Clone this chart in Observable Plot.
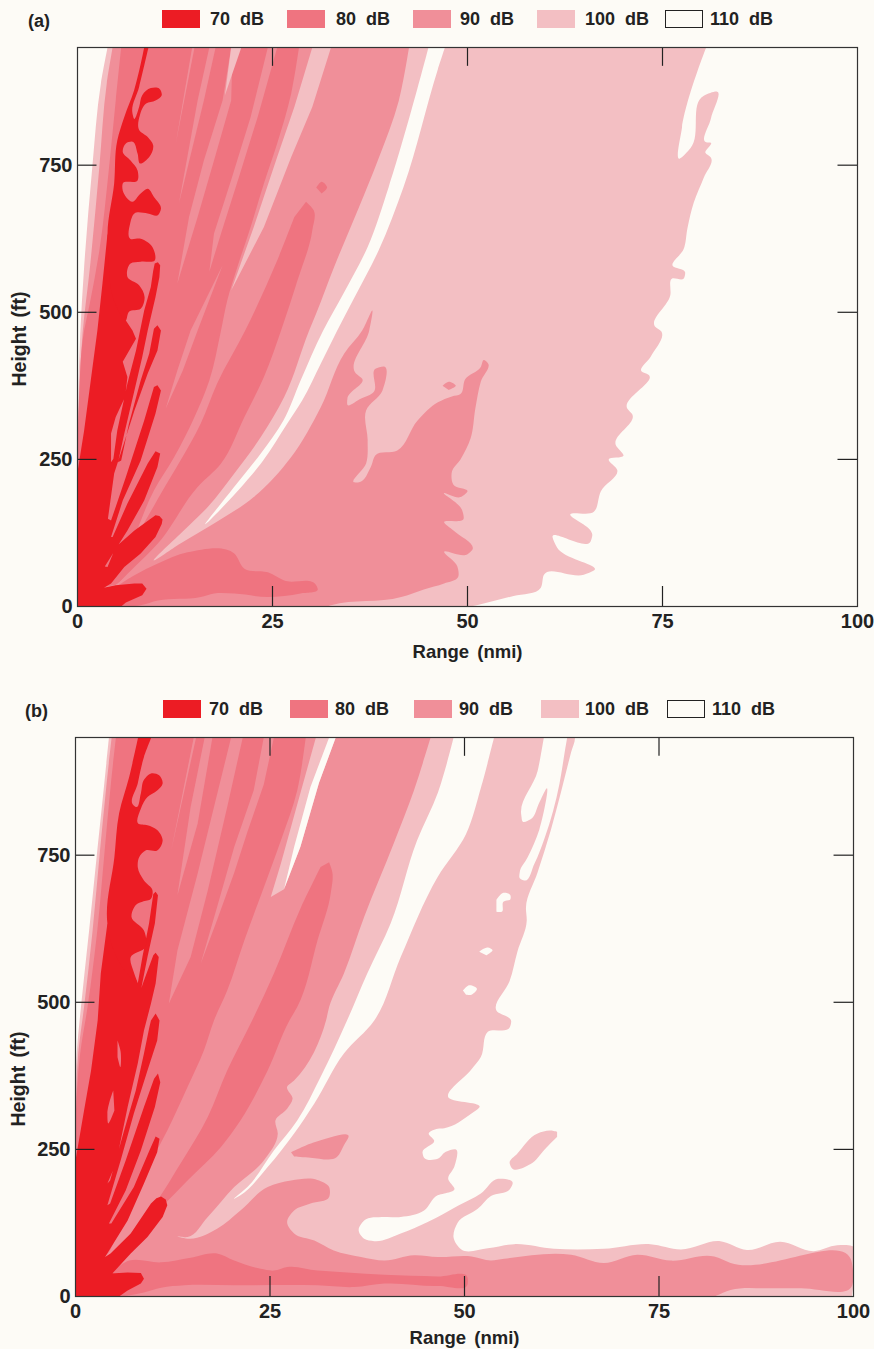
<!DOCTYPE html>
<html><head><meta charset="utf-8">
<style>
html,body{margin:0;padding:0;background:#fdfbf6;width:874px;height:1349px;overflow:hidden;font-family:"Liberation Sans",sans-serif;color:#222}
.panel{position:absolute;left:0}
.lg{position:absolute;font-weight:bold;font-size:18px;word-spacing:5px;line-height:20px;white-space:pre}
.sw{position:absolute;height:18px;box-sizing:border-box}
</style>
<script src="https://cdn.jsdelivr.net/npm/d3@7"></script>
<script src="https://cdn.jsdelivr.net/npm/@observablehq/plot@0.6"></script>
</head><body>
<script>
const legendLabels=["70 dB","80 dB","90 dB","100 dB","110 dB"];
const levelColors=["#ec1c24","#ef7480","#f08f99","#f3bfc3","#fdfbf6"];
const xTicks=[0,25,50,75,100], yTicks=[0,250,500,750];
const innerX=[25,50,75], innerY=[250,500,750];

// ---------- panel (a): [range nmi, height ft] ----------
const aLeft100=[[0,228],[.35,464],[.85,577],[1.9,747],[3,889],[3.85,950]];
const aRight100=[[80.6,950],[77.5,814],[77.2,761],[78.6,779],[80.3,868],[82,875],[81.2,829],[80.6,789],[81.2,788],[80.5,771],[81.2,763],[80.3,729],[79,686],[78.2,643],[77.7,607],[76.3,579],[77.9,568],[77.7,557],[76.2,557],[76,529],[74.1,475],[74.8,468],[73.5,425],[72.3,400],[73.2,394],[70.5,336],[71.1,327],[69,275],[70,256],[68.1,250],[69.2,232],[67.1,196],[66.2,161],[63.2,157],[66,121],[65.8,111],[60.9,118],[61.5,100],[66.2,61],[64.9,54],[59.8,54],[59.4,32],[55.9,18],[51.7,4],[50.4,0],[0,0]];
const a110Strip=[[45,950],[39.9,713],[37.2,611],[34.1,532],[31.5,469],[28.6,384],[26.4,316],[23.5,260],[20,202],[16.4,141],[23.8,248],[26.9,311],[28.8,350],[31.2,413],[33.3,469],[35.3,520],[38.6,605],[41.8,713],[46.2,913],[47.1,950]];
const a110Dot=[[28.1,235],[29,235],[28.6,232]];
const aLeft90=[[0,254],[.1,299],[.65,464],[1.6,577],[2.8,747],[3.75,889],[4.5,950]];
const aRight90=[[42.5,950],[41.2,860],[38.5,758],[36.1,679],[32.9,577],[30.6,498],[29.7,469],[26.5,356],[23.5,288],[20.1,226],[16.7,169],[14.1,135],[9.8,78],[13.2,107],[17.5,141],[22.6,186],[27.4,254],[31.2,339],[34.2,430],[36.5,469],[37.8,503],[37.4,469],[35.7,396],[36.5,387],[34.6,353],[34.6,343],[36.3,353],[38,365],[38.2,404],[39.3,408],[39.1,367],[37,333],[37.2,282],[37,243],[35.5,211],[36.1,211],[37.6,237],[38.2,257],[41,265],[43.6,316],[46.2,347],[48,357],[49.1,361],[49.7,386],[51.7,407],[52.1,419],[52.6,414],[51.7,382],[51,336],[50.4,286],[49.1,250],[48,229],[48.2,207],[50,196],[49.1,186],[47,193],[49.3,164],[49.5,149],[47,143],[48.2,129],[50.6,96],[50,89],[47,93],[48.7,68],[48.8,50],[47,39],[44.4,29],[41.5,16],[32.5,2],[32,0],[0,0]];
const a90Island=[[46.8,375],[47.6,382],[48.5,375],[47.6,368]];
const aLeft80=[[0,243],[.2,356],[.85,469],[1.5,510],[2.8,605],[4.05,747],[4.9,860],[5.6,950]];
const aRight80=[[28.4,950],[27.4,872],[25.6,787],[23.9,719],[22.2,645],[20.5,577],[19.2,520],[18.4,469],[16.9,384],[15,322],[12.4,254],[9.8,197],[7.3,118],[5.1,39],[0,39]];
const a80Lens=[[29.3,688],[30.3,673],[30.1,639],[28.2,554],[26.1,469],[23.9,390],[21.4,322],[18.4,243],[15.4,203],[10.3,107],[7.3,67],[5.1,39],[10.7,192],[13.2,248],[15.8,311],[17.9,379],[21.5,469],[25.6,588],[27.8,662]];
const a80Dot=[[30.6,712],[31.3,722],[32,712],[31.3,702]];
const a80Lower=[[4.9,33],[7.3,53],[10.3,73],[14.1,92],[20.1,90],[21.4,64],[24.4,58],[26.5,44],[30.6,36],[30.8,30],[28.6,22],[24.4,16],[20.1,22],[17.5,22],[15.8,16],[10.3,10],[8.1,2],[5.6,0],[0,0],[0,33]];
const aS1=[[14.7,950],[15,950],[12.6,787]];
const aS2=[[16.9,950],[15.4,860],[13,685],[16.2,860],[17.7,950]];
const aS3=[[12.8,549],[15.4,662],[17.5,758],[19.7,860],[19.9,950],[19.7,950],[18.6,860],[16.2,758],[14.3,662]];
const aS4=[[19.7,950],[21,950],[18.9,869]];
const aS5=[[24.4,950],[22.2,832],[19.7,725],[17.5,634],[16.9,569],[18.4,634],[20.7,730],[23.1,832],[25.6,950]];
const aS6=[[18.6,580],[15.4,469],[13.5,401],[11.3,336],[12.8,401],[14.5,469]];
const aS8=[[30.1,950],[27.8,849],[25.6,764],[22.6,645],[19.7,537],[23.9,645],[27.4,764],[30.1,849],[32.5,950]];
const aRight70Blobs=[[9.1,950],[7.9,883],[7.05,838],[7.25,829],[7.9,849],[8.3,869],[9.4,881],[10.5,880],[10.8,869],[10,860],[8.8,855],[8,835],[7.9,810],[9,798],[9.7,784],[9.2,764],[8,753],[7.7,770],[7.05,790],[6.2,787],[5.8,773],[6.8,758],[7.7,741],[7.7,724],[5.8,719],[5.8,707],[7.05,688],[8.1,702],[9,710],[9.8,696],[10.7,676],[10.3,665],[9,668],[7.3,668],[6.75,651],[6.75,625],[8.1,625],[9.6,611],[9.9,588],[8.1,586],[6.8,583],[6.4,560],[7.9,546],[8.6,526],[8.1,506],[6.6,501],[6.2,486],[5,510],[3.95,600],[3.85,634],[4.7,719],[5.1,792],[6,832],[7.25,877],[8.55,950]];
const aRight70Fingers=[[6.2,486],[7.05,469],[7.5,455],[5.8,416],[6.4,390],[6.1,356],[4.9,322],[4.3,294],[4.3,245],[4.6,251],[5.1,299],[6.4,379],[7.5,435],[8.55,503],[9.4,543],[9.7,570],[9.9,583],[10.3,585],[10.6,580],[10.5,560],[10,526],[9,469],[8.3,424],[7.3,367],[6,294],[5.2,245],[5.6,248],[6.6,311],[8.1,384],[9.2,430],[9.8,472],[10.25,478],[10.7,469],[10.25,435],[9,396],[7.3,333],[5.8,271],[4.7,226],[3.9,149],[4.3,146],[6.2,220],[8.55,316],[9.8,373],[10.25,376],[10.7,367],[10,328],[8.1,248],[5.8,180],[4.3,118],[4.5,118],[6.4,175],[9,243],[10,264],[10.6,260],[10.25,237],[8.55,180],[6.4,129],[3.5,68],[3.85,67],[4.9,101],[7.3,129],[10,155],[10.5,154],[10.9,148],[10.8,140],[10,118],[8.1,90],[6,67],[4.3,39],[3.4,32],[4.9,36],[7.3,39],[8.3,39],[8.85,30],[8.3,19],[6.2,7],[5.6,0],[0,0],[0,228],[.85,299],[1.7,384],[2.55,469],[3.2,549],[3.85,634]];

// ---------- panel (b) ----------
const bLeft100=[[0,248],[.15,413],[.7,492],[1.75,622],[2.8,758],[3.7,872],[4.3,950]];
const bRight100=[[60.5,975],[60.2,950],[59.8,920],[59.4,893],[57.3,818],[57.5,807],[58.5,811],[59.6,839],[60.5,863],[59.6,793],[58.1,746],[57.1,721],[57.1,711],[57.7,707],[59,736],[60.3,779],[62.2,871],[62.7,910],[63.2,950],[63.45,965],[63.95,965],[64.2,950],[63.7,925],[62.4,857],[61.1,793],[59.4,721],[57.9,661],[58,639],[56.8,586],[55.8,536],[54.1,486],[56,468],[55.8,457],[53,450],[52.1,407],[50.9,386],[47.9,339],[51.9,321],[50.9,311],[47.4,286],[46.55,285],[45.4,277],[46.1,265],[44.6,245],[44.8,236],[46.55,234],[47.6,246],[48.9,250],[48.7,221],[47.9,200],[48.7,182],[47.4,175],[46.55,172],[44.8,146],[41.8,135],[39.7,135],[37.1,129],[36.4,112],[37.1,98],[38.4,94],[41.8,107],[45.2,126],[49.1,154],[52.1,175],[54.3,200],[56.2,193],[55.8,182],[53.4,171],[51.7,149],[49.1,125],[48.6,100],[49.6,80],[53,82],[56.4,89],[61.5,81],[67.9,81],[73.9,89],[77.8,80],[82.9,94],[86.3,79],[90.6,93],[94.9,77],[97.9,87],[99.8,86],[99.8,0],[0,0]];
const b100Island=[[61.9,280],[61.1,282],[59.4,277],[56.8,243],[55.8,227],[56.1,218],[58.5,225],[60.3,250],[61.9,271]];
const b110Strip=[[48.6,950],[46.6,857],[43.9,775],[40.5,634],[37.5,549],[34.9,469],[31.5,373],[28.5,299],[25.5,248],[22.1,186],[20.4,166],[21.2,172],[24.7,220],[28.1,277],[30.7,328],[34.5,413],[38.4,469],[41.8,577],[46.55,713],[50.2,786],[52.1,864],[53.8,950]];
const b110Comma=[[54.1,674],[55,686],[55.9,682],[55.9,675],[55,671],[54.8,654],[54.1,654]];
const b110Hole1=[[51.9,586],[53,593],[53.6,589],[52.8,580]];
const b110Hole2=[[49.8,520],[50.6,529],[51.6,523],[50.9,513],[50.2,513]];
const b110Dot=[[28.2,9],[28.9,10],[28.9,7],[28.2,7]];
const bLeft90=[[0,277],[.35,413],[1.1,492],[2.2,622],[3.15,758],[4,872],[4.65,950]];
const bRight90=[[45.65,950],[43.5,860],[40.9,770],[37.1,645],[34.5,549],[32.6,492],[32.2,469],[28.1,367],[27.2,356],[27.9,336],[27.2,319],[25.7,299],[26,277],[24.2,231],[20.4,186],[17,135],[14.4,101],[13.1,102],[14.6,98],[18.2,115],[21.2,146],[24.7,186],[27.7,197],[31.1,198],[32.6,186],[32.6,169],[30.2,158],[28.1,146],[27.2,126],[28.1,107],[30.7,95],[33.2,78],[36.7,67],[39.7,61],[43.5,70],[46.55,67],[50.9,68],[53.4,61],[55.1,64],[63.7,71],[67.9,57],[72.2,71],[76.5,61],[82.1,68],[84.2,57],[99.8,57],[99.8,18],[93.2,14],[89.3,14],[84.2,11],[82.1,0],[0,0]];
const b90Island=[[27.7,245],[30.7,262],[35.1,271],[34.5,257],[33.6,237],[30.2,236],[28.1,238]];
const b100Wedge=[[30.9,950],[29,860],[26.4,736],[25.1,679],[26.8,692],[28.9,764],[31.3,873],[33.45,950]];
const b110Sliver=[[32.6,950],[30.2,866],[28.1,764],[26.8,692],[28.9,764],[31.3,873],[33.45,950]];
const bLeft80=[[0,299],[.6,413],[1.55,492],[2.8,622],[3.75,758],[4.55,872],[5.2,950]];
const bRight80=[[29.6,950],[28.5,860],[26.4,775],[24.7,713],[21.7,605],[19.5,520],[17.8,469],[16.5,418],[14.4,356],[11.8,282],[8.4,197],[5.4,107],[3.7,67],[0,67]];
const b80Lens=[[32.6,738],[33,722],[32.8,685],[31.1,605],[28.5,492],[27.5,469],[24.7,384],[21.2,299],[18.7,254],[14.4,197],[8.8,118],[5,53],[7.1,107],[9.3,141],[13.5,226],[17,305],[19.5,384],[22.7,469],[25.5,549],[29,662],[31.5,730]];
const b80Lower=[[4.1,36],[6.9,61],[11,58],[14.8,66],[18.2,73],[20.4,61],[23.8,47],[25.5,44],[27.2,50],[31.1,44],[34.9,41],[39.7,37],[46.55,34],[50.4,32],[50.4,21],[46.6,18],[39.7,22],[35.8,16],[31.1,19],[20.4,19],[14,19],[11,15],[8.8,7],[5.8,0],[0,0],[0,36]];
const bT1=[[15.2,950],[15.5,950],[12.3,758]];
const bT2=[[16.6,950],[14.8,832],[13.1,682],[15.7,804],[17.6,950]];
const bT3=[[20,950],[17.8,832],[15.7,719],[13.1,588],[12,498],[14.8,577],[17,690],[19.5,832],[21.5,950]];
const bT4=[[24.2,950],[22.9,860],[20.4,764],[18.2,662],[16.1,566],[18.2,640],[20.4,720],[22.1,790],[24.2,870],[25.5,950]];
const bRight70Blobs=[[9.75,950],[8.8,917],[8,872],[7.45,835],[7.75,832],[8.4,855],[8.8,878],[9.7,889],[10.75,886],[11.2,872],[10.5,860],[9.25,849],[8.4,829],[8.05,804],[9.25,801],[10.5,793],[11.2,775],[10.5,758],[9,758],[8.2,747],[8,730],[8.8,707],[9.9,690],[9.7,676],[8.6,671],[8,668],[7.2,645],[8.8,622],[9,594],[7.1,577],[7.55,549],[8,532],[6,560],[4.4,610],[4.1,634],[5,747],[5.6,821],[6.9,883],[8.05,950]];
const bRight70Fingers=[[8,532],[8.6,577],[9.45,634],[10,684],[10.3,688],[10.6,682],[10.2,634],[9.25,577],[8.4,520],[7.9,503],[8.8,537],[10,580],[10.3,584],[10.7,577],[10.3,532],[9.7,498],[8.8,452],[8,396],[6.7,322],[5.2,226],[4.1,192],[4.45,197],[6.25,282],[7.75,350],[8.8,413],[9.5,458],[9.7,469],[10.3,481],[10.8,469],[10.5,435],[9.25,384],[7.5,311],[5.8,231],[4.1,155],[4.45,158],[6.45,231],[8.8,322],[10.1,370],[10.6,379],[10.9,364],[10.2,322],[8.4,248],[6.45,180],[4.3,124],[4.6,124],[7.5,186],[9.5,248],[10.3,272],[10.8,268],[10.5,245],[8.8,192],[6.7,129],[3.8,67],[4.5,73],[7.1,107],[9.7,158],[10.4,167],[11,170],[11.6,165],[11.8,155],[11.2,135],[9.25,101],[7.1,73],[4.1,30],[4.5,39],[6.7,41],[8.4,40],[8.8,30],[8.4,22],[6.7,10],[5.6,0],[0,0],[0,231],[1.1,316],[2,384],[2.85,469],[3.25,549],[4.1,634]];
const b80Sliver1=[[5.4,435],[5.8,416],[5.75,390],[5.4,407]];
const b80Sliver2=[[4.85,350],[4.1,311],[4.2,294],[5,316]];

const [c70,c80,c90,c100,c110]=levelColors;
const poly=(pts,fill,curve="catmull-rom")=>Plot.line(pts,{x:d=>d[0],y:d=>d[1],fill,stroke:"none",curve,tension:1,clip:true});
const strip=(pts,fill)=>poly(pts,fill,"linear");

function chart(layers,o){
  return Plot.plot({
    width:874,height:o.height,
    marginLeft:o.ml,marginRight:o.mr,marginTop:o.mt,marginBottom:o.mb,
    x:{domain:[0,100]},y:{domain:[0,950]},
    style:{background:"transparent",fontFamily:"'Liberation Sans',sans-serif",fontSize:"20px",fontWeight:"bold",color:"#222",overflow:"visible",wordSpacing:"3px"},
    marks:[
      ...layers,
      Plot.ruleX(innerX,{x:d=>d,y1:0,y2:34,stroke:"#222",strokeWidth:1.2}),
      Plot.ruleX(innerX,{x:d=>d,y1:918,y2:950,stroke:"#222",strokeWidth:1.2}),
      Plot.ruleY(innerY,{y:d=>d,x1:0,x2:2.5,stroke:"#222",strokeWidth:1.2}),
      Plot.ruleY(innerY,{y:d=>d,x1:97.5,x2:100,stroke:"#222",strokeWidth:1.2}),
      Plot.frame({stroke:"#333",strokeWidth:1.2}),
      Plot.axisX({ticks:xTicks,tickSize:0,tickPadding:7,label:null}),
      Plot.axisY({ticks:yTicks,tickSize:0,tickPadding:5,label:null}),
      Plot.text(["Range (nmi)"],{frameAnchor:"bottom",textAnchor:"middle",lineAnchor:"middle",dy:o.xdy,fontSize:18.5,text:d=>d}),
      Plot.text(["Height (ft)"],{frameAnchor:"left",textAnchor:"middle",lineAnchor:"middle",rotate:-90,dx:o.ydx,dy:o.ydy,fontSize:19.5,text:d=>d})
    ]
  });
}

const aLayers=[
  poly(aRight100.concat(aLeft100),c100),
  poly(a110Strip,c110),strip(a110Dot,c110),
  poly(aRight90.concat(aLeft90),c90),poly(a90Island,c90),
  poly(aRight80.concat(aLeft80),c80),poly(a80Lens,c80),poly(a80Dot,c80),poly(a80Lower,c80),
  strip(aS1,c90),strip(aS2,c90),strip(aS3,c90),strip(aS4,c100),strip(aS5,c90),strip(aS6,c90),strip(aS8,c100),
  strip(aRight70Fingers,c70),poly(aRight70Blobs,c70)
];
const bLayers=[
  poly(bRight100.concat(bLeft100),c100),poly(b100Island,c100),
  poly(b110Strip,c110),poly(b110Comma,c110),poly(b110Hole1,c110),poly(b110Hole2,c110),poly(b110Dot,c110),
  poly(bRight90.concat(bLeft90),c90),poly(b90Island,c90),strip(b100Wedge,c100),strip(b110Sliver,c110),
  poly(bRight80.concat(bLeft80),c80),poly(b80Lens,c80),poly(b80Lower,c80),
  strip(bT1,c90),strip(bT2,c90),strip(bT3,c90),strip(bT4,c90),
  strip(bRight70Fingers,c70),poly(bRight70Blobs,c70),poly(b80Sliver1,c80),poly(b80Sliver2,c80)
];

function place(node,top){node.classList.add("panel");node.style.position="absolute";node.style.top=top+"px";document.body.appendChild(node);}
place(chart(aLayers,{height:622,ml:77,mr:17,mt:9,mb:54,xdy:46,ydx:-58,ydy:12}),38);
place(chart(bLayers,{height:619,ml:75,mr:21,mt:7,mb:53,xdy:42,ydx:-57,ydy:62}),730);

function legend(tag,tagLeft,top,sw,tx){
  const t=document.createElement("div");t.className="lg";t.textContent=tag;
  t.style.cssText+=`left:${tagLeft}px;top:${top+1}px;`;document.body.appendChild(t);
  legendLabels.forEach((lab,i)=>{
    const s=document.createElement("div");s.className="sw";
    s.style.cssText+=`left:${sw[i]}px;top:${top}px;width:38px;background:${levelColors[i]};`+(i==4?"border:1.5px solid #222;":"");
    document.body.appendChild(s);
    const l=document.createElement("div");l.className="lg";l.textContent=lab;
    l.style.cssText+=`left:${tx[i]}px;top:${top-1}px;`;document.body.appendChild(l);
  });
}
legend("(a)",28,10,[162,287,413,537,665],[210,336,460,585,710]);
legend("(b)",25,700,[163,290,414,541,667],[209,335,459,585,712]);
</script>
</body></html>
